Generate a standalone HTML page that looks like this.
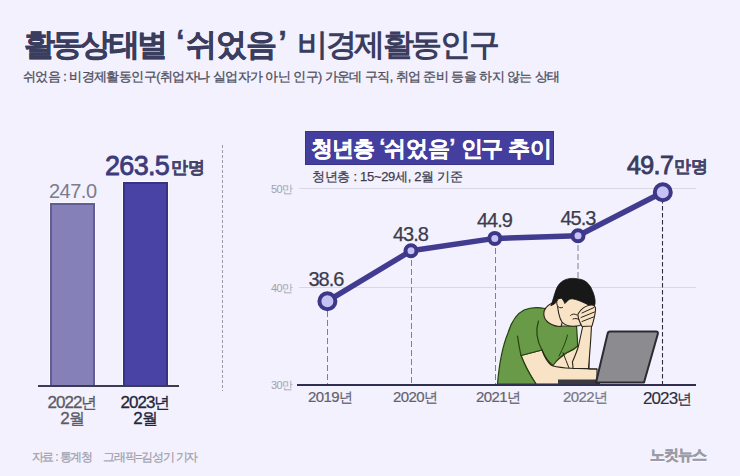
<!DOCTYPE html>
<html lang="ko"><head><meta charset="utf-8">
<style>
*{margin:0;padding:0;box-sizing:border-box}
html,body{width:740px;height:476px;overflow:hidden;background:#f2f1fd}
body{font-family:"Liberation Sans",sans-serif;position:relative}
.a{position:absolute;white-space:nowrap;line-height:1}
#title{left:24px;top:28.5px;font-size:31px;font-weight:bold;color:#3a3d5e;letter-spacing:-2.8px}
#title b{-webkit-text-stroke:0.4px #3a3d5e}
#sub{left:23px;top:70.5px;font-size:12.5px;color:#4e4f60;letter-spacing:-0.55px;-webkit-text-stroke:0.3px #4e4f60}
.bar{position:absolute}
.lbl{font-size:20px;color:#7c7c8a;letter-spacing:-0.5px}
.yr{font-size:17px;text-align:center;letter-spacing:-1px;line-height:16.5px;-webkit-text-stroke:0.3px currentColor}
.yr i{font-style:normal;font-size:15.5px}
#hdr{position:absolute;left:305px;top:131px;width:249px;height:34px;background:#443e9e;border:1px solid #37328a}
#hdrt{left:311px;top:137.5px;font-size:22px;font-weight:bold;color:#fff;letter-spacing:-1px;-webkit-text-stroke:0.3px #fff}
#hsub{left:312px;top:170px;font-size:13px;color:#3e3e4e;letter-spacing:-0.3px;-webkit-text-stroke:0.25px #3e3e4e}
.yl{font-size:11px;color:#a0a0b0;letter-spacing:-0.5px}
.val{font-size:20px;color:#3c3c4c;letter-spacing:-1px;-webkit-text-stroke:0.25px #3c3c4c}
.xl{font-size:15px;color:#62626e;letter-spacing:-0.6px;-webkit-text-stroke:0.2px #62626e}
.xl i{font-style:normal;font-size:13.5px}
#foot{left:31.5px;top:450.5px;font-size:12px;color:#9e9eac;letter-spacing:-1.2px;-webkit-text-stroke:0.2px #9e9eac}
</style></head><body>
<div class="a" id="title"><b>활동상태별<span style="margin-left:11px;margin-right:4.5px;position:relative;top:-2.5px">‘</span><span style="letter-spacing:-1.2px">쉬었음</span><span style="margin-left:2.5px;position:relative;top:-2px">’</span></b> <span style="margin-left:7px;letter-spacing:-2.4px">비경제활동인구</span></div>
<div class="a" id="sub">쉬었음 : 비경제활동인구(취업자나 실업자가 아닌 인구) 가운데 구직, 취업 준비 등을 하지 않는 상태</div>

<!-- left bar chart -->
<div class="bar" style="left:50px;top:203px;width:45px;height:183px;background:#8580b8;border:2px solid #625e92;border-bottom:none;box-shadow:0 0 0 1px rgba(255,255,255,.6)"></div>
<div class="bar" style="left:123px;top:182px;width:45px;height:204px;background:#4a43a6;border:2px solid #383287;border-bottom:none;box-shadow:0 0 0 1px rgba(255,255,255,.6)"></div>
<div class="bar" style="left:38px;top:385px;width:141px;height:2px;background:#3b3b55"></div>
<div class="a lbl" style="left:49px;top:181px">247.0</div>
<div class="a" id="big1" style="left:105px;top:153px;font-size:27px;font-weight:normal;-webkit-text-stroke:0.8px #3d3b78;color:#3d3b78;letter-spacing:-0.7px">263.5<span style="font-size:16.5px;font-weight:bold;-webkit-text-stroke:0.3px #45456a;letter-spacing:0.3px;margin-left:1.5px;color:#45456a;position:relative;top:-2.5px">만명</span></div>
<div class="a yr" style="left:44px;top:394.5px;width:56px;color:#5a5a68">2022<i>년</i><br>2<i>월</i></div>
<div class="a yr" style="left:117px;top:394.5px;width:56px;color:#24243a">2023<i>년</i><br>2<i>월</i></div>

<!-- separator -->
<svg class="a" style="left:0;top:0" width="740" height="476">
  <line x1="222.5" y1="145" x2="222.5" y2="391" stroke="#9a9aa6" stroke-width="1" stroke-dasharray="3 2"/>
  <!-- gridlines -->
  <line x1="299" y1="188.5" x2="696" y2="188.5" stroke="#d9d8e4" stroke-width="1"/>
  <line x1="299" y1="287.5" x2="696" y2="287.5" stroke="#d9d8e4" stroke-width="1"/>
  <!-- vertical dashed -->
  <g stroke="#80808e" stroke-width="1" stroke-dasharray="6 3">
    <line x1="327.5" y1="302" x2="327.5" y2="384"/>
    <line x1="411.5" y1="251" x2="411.5" y2="384"/>
    <line x1="495.5" y1="239" x2="495.5" y2="384"/>
    <line x1="578" y1="236" x2="578" y2="384"/>
  </g>
  <line x1="662.5" y1="192" x2="662.5" y2="384" stroke="#2e2e3e" stroke-width="1.1" stroke-dasharray="4.5 2.5"/>
  <!-- person -->
  <g stroke-linejoin="round" stroke-linecap="round">
    <!-- skin base under torso (lower arms) -->
    <path d="M521 355.5 L542 350 L556 361 L566.6 352.7 L577.6 346 L589 346 L589 369 L597 369 L597 384 L536 384 C530 375 525 366 521 355.5 Z" fill="#f9e3c6" stroke="#2a2418" stroke-width="1.1"/>
    <!-- gap behind raised arm -->
    <path d="M575 325 L584 325 L579 347 L576 347 Z" fill="#f3f3f7"/>
    <!-- torso / shirt -->
    <path d="M497.5 384 C499 366 503 345 508 333 C511 323 516 314 524 310 C531 307 538 307 545 308.5 L556 326 L576.5 326 C577 333 577.6 340 577.6 346 C574 350 570 351 566.6 352.7 C562 355 557 360 553 365.5 C548 362 545 357 542 350 L521 355.5 C525 366 530 375 536 384 Z" fill="#699a47" stroke="#24430f" stroke-width="1.2"/>
    <!-- desk forearm top edge + elbow line -->
    <path d="M542 350 C544 356 547 361.5 551 365 C556 368 570 368.5 597 369" fill="none" stroke="#2a2418" stroke-width="1.1"/>
    <path d="M563 352.7 C565 358 567 363 569 368" fill="none" stroke="#2a2418" stroke-width="1"/>
    <!-- sleeve lines -->
    <path d="M538.5 321 C535.5 330 537 341 542 350" fill="none" stroke="#24430f" stroke-width="1.2"/>
    <path d="M517.5 336 C518.5 343 519.5 349 521 355.5" fill="none" stroke="#24430f" stroke-width="1.2"/>
    <path d="M567.5 335 C566 342 563 348 559 356" fill="none" stroke="#24430f" stroke-width="1"/>
    <!-- raised forearm -->
    <path d="M583 325 L591.5 325 C591 340 589.5 355 588.5 368.5 L573 368.5 C573 365 572.5 363 572.4 362 C575 356 577 351 578.5 346 C580 339 581.5 332 583 325 Z" fill="#f9e3c6" stroke="#2a2418" stroke-width="1.1"/>
    <!-- neck -->
    <path d="M552 303 C546.5 306 543.5 310 543.8 314 C544 318 546 321 549 323 C552 325 556 326.5 561 326.5 L563 320 C560 314 558 306 557 300 Z" fill="#f9e3c6" stroke="#2a2418" stroke-width="1.1"/>
    <!-- face -->
    <path d="M557 299 C557.5 309 558.5 317 562 322 C566 326.5 573 327 580 325.5 L591 306 L575 295 Z" fill="#f9e3c6" stroke="#2a2418" stroke-width="1.1"/>
    <!-- hair -->
    <path d="M551.2 305.5 C553 300 554.5 294 556 290 C557.5 285 561 281.5 565.6 279.6 C569 278.5 571 278.3 573.6 278.4 C577 278.5 579 279 581.5 279.6 C584.5 280.5 586.5 282 588 283.6 C590 286 591.5 288 592 290 C593.5 293 594.5 296 595 300 C595.3 303 595 305.5 593.5 307.5 C592 307 591 306.5 589.5 306 C587.5 304.5 586 303.5 584 302.8 C582 301.8 580 301 578.4 300.4 C576 299.5 574 299 572 298.8 C570 299 569 299.5 568 300.4 C566.5 301.5 565.5 303 564.8 303.6 C564.2 302 563.8 301 563.2 300.4 C562.5 299.3 562 298.5 561.6 298 C560.5 297.8 559.3 298 558.4 298.8 C557.5 300 557 301 556.5 302 C555 303.5 553 305 551.2 305.5 Z" fill="#181818" stroke="#111" stroke-width="0.8"/>
    <!-- ear -->
    <path d="M558.4 299 C556.5 300 556.3 303 557.3 305.5 C558.3 307.5 560.5 308.5 562.5 307.5" fill="#f9e3c6" stroke="#2a2418" stroke-width="1"/>
    <!-- hand over forehead -->
    <path d="M578 314 C581 309 586 305.5 591 305 C594 304.8 596 306.5 595.5 310 C595 316 593.5 321 592 326 L582 326.5 C579.5 322 577.5 318 578 314 Z" fill="#f9e3c6" stroke="#2a2418" stroke-width="1.1"/>
    <path d="M582 313 L594 307.5 M581 317.5 L594.5 312 M582 321.5 L593.5 317 M577 315 C574.5 313.5 572 313.8 570.5 315.5 M573 319 C575 318.2 577 318.4 579 319.5" fill="none" stroke="#2a2418" stroke-width="1"/>
    <!-- laptop base -->
    <path d="M558 379.5 L600 379.5 L600 384 L558 384 Z" fill="#3a3a40"/>
    <!-- laptop screen -->
    <path d="M610 331.5 L656 331.5 Q658.5 331.5 657.8 334 L644 382.5 L596 382.5 L607.5 334 Q608 331.5 610 331.5 Z" fill="#8b8b90" stroke="#2b2b33" stroke-width="2"/>
  </g>
  <!-- axis -->
  <line x1="297" y1="385" x2="696" y2="385" stroke="#2e2e50" stroke-width="2"/>
  <!-- line -->
  <polyline points="327.4,301.2 411,250.8 494.8,238.4 578,235.8 662.8,192.3" fill="none" stroke="#423c90" stroke-width="5.5" stroke-linejoin="round"/>
  <g fill="#c6c2f6" stroke="#3d3788" stroke-width="4">
    <circle cx="327.4" cy="301.2" r="8"/>
    <circle cx="411" cy="250.8" r="5.5"/>
    <circle cx="494.8" cy="238.4" r="5.5"/>
    <circle cx="578" cy="235.8" r="5.5"/>
    <circle cx="662.8" cy="192.3" r="8"/>
  </g>
</svg>

<div id="hdr"></div>
<div class="a" id="hdrt">청년층 <span style="position:relative;top:-2px">‘</span><span style="letter-spacing:0">쉬었음</span><span style="position:relative;top:-2px;margin-left:-1px">’</span> <span style="margin-left:3px;letter-spacing:-2.5px">인구</span> <span style="margin-left:3px;letter-spacing:-0.8px">추이</span></div>
<div class="a" id="hsub">청년층 : 15~29세, 2월 기준</div>

<div class="a yl" style="left:271px;top:184px">50만</div>
<div class="a yl" style="left:271px;top:283px">40만</div>
<div class="a yl" style="left:271px;top:380px">30만</div>

<div class="a val" style="left:308.5px;top:269px">38.6</div>
<div class="a val" style="left:393px;top:224px">43.8</div>
<div class="a val" style="left:477px;top:210px">44.9</div>
<div class="a val" style="left:560.5px;top:208px">45.3</div>
<div class="a" id="big2" style="left:627px;top:153px;font-size:25px;font-weight:normal;-webkit-text-stroke:0.8px #3a3a5c;color:#3a3a5c;letter-spacing:-0.6px">49.7<span style="font-size:16.5px;font-weight:bold;-webkit-text-stroke:0.3px #45456a;letter-spacing:0.3px;margin-left:0.5px;color:#45456a;position:relative;top:-2px">만명</span></div>

<div class="a xl" style="left:308px;top:389px">2019<i>년</i></div>
<div class="a xl" style="left:393px;top:389px">2020<i>년</i></div>
<div class="a xl" style="left:476px;top:389px">2021<i>년</i></div>
<div class="a xl" style="left:563px;top:389px;color:#7a7a88">2022<i>년</i></div>
<div class="a xl" style="left:643px;top:390px;color:#2e2e3e;font-size:17px;letter-spacing:-0.9px;-webkit-text-stroke:0.15px #2e2e3e">2023<i style="font-size:15px">년</i></div>

<div class="a" id="foot">자료 : 통계청<span style="margin-left:11px">그래픽=김성기 기자</span></div>
<div class="a" style="left:649.5px;top:447px;font-size:15px;font-weight:bold;color:#9a9aa8;letter-spacing:-1px;-webkit-text-stroke:0.5px #9a9aa8;text-shadow:0 1px 0 #fff">노컷뉴스</div>
</body></html>
